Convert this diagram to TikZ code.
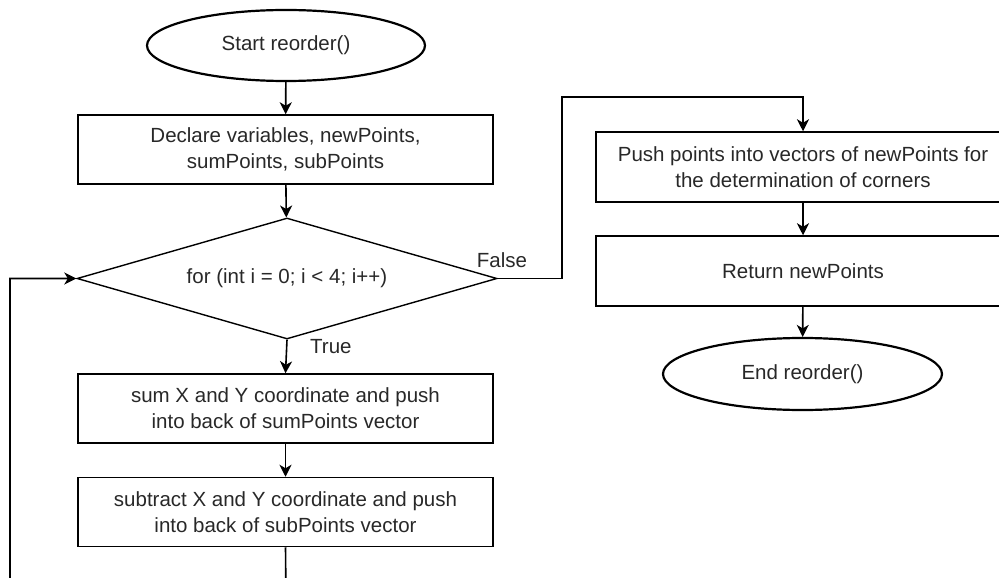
\documentclass[tikz,border=0pt]{standalone}
\usepackage{fontspec}
\setmainfont{Liberation Sans}
\usetikzlibrary{shapes.geometric,arrows.meta}
\definecolor{txt}{RGB}{40,40,40}
\begin{document}
\begin{tikzpicture}[x=1pt,y=-1pt,
  every node/.style={font=\fontsize{20.5}{25.7}\selectfont, text=txt, align=center},
  procbox/.style={draw, line width=1.5pt, rectangle, minimum width=415pt, minimum height=69pt, inner sep=0pt},
  terminal/.style={draw, line width=2.2pt, ellipse, minimum width=278pt, minimum height=71pt, inner sep=0pt},
  decision/.style={draw, line width=1.4pt, diamond, shape aspect=3.47, minimum width=420pt, minimum height=121pt, inner sep=0pt},
  flow/.style={line width=1.6pt, -{Stealth[length=12pt,width=12pt,inset=3.5pt]}},
  lbl/.style={inner sep=0pt}]
\useasboundingbox (0,0) rectangle (999,578);
\clip (0,0) rectangle (999,578);

% left column: loop body
\node[terminal] (start) at (286,45.5) {Start reorder()};
\node[procbox] (decl) at (285.5,149.5) {Declare variables, newPoints,\\sumPoints, subPoints};
\node[decision] (cond) at (287,278.5) {for (int i = 0; i < 4; i++)};
\node[procbox] (sum) at (285.5,408.5) {sum X and Y coordinate and push\\into back of sumPoints vector};
\node[procbox] (sub) at (285.5,512) {subtract X and Y coordinate and push\\into back of subPoints vector};

% right column: after the loop
\node[procbox, minimum width=414pt, minimum height=70pt] (push) at (803,167) {Push points into vectors of newPoints for\\the determination of corners};
\node[procbox, minimum width=414pt, minimum height=70pt] (ret) at (803,271) {Return newPoints};
\node[terminal, minimum width=279pt, minimum height=72pt] (stop) at (802.5,374) {End reorder()};

% turning points of the routed connectors
\coordinate (lb) at (286,600);
\coordinate (ll) at (10,600);
\coordinate (lt) at (10,278.5);
\coordinate (f1) at (562,278.5);
\coordinate (f2) at (562,97);
\coordinate (f3) at (803,97);

\draw[flow] (start) -- (decl);
\draw[flow] (decl) -- (cond);
\draw[flow] (cond.south) -- (sum.north);
\draw[flow] (sum) -- (sub);
\draw[flow] (sub.south) -- (lb) -- (ll) -- (lt) -- (cond.west);
\draw[flow] (cond.east) -- (f1) -- (f2) -- (f3) -- (push.north);
\draw[flow] (push) -- (ret);
\draw[flow] (ret) -- (stop);

\node[lbl, anchor=west] (truelbl) at (310,347) {True};
\node[lbl] (falselbl) at (502,260) {False};
\end{tikzpicture}
\end{document}
